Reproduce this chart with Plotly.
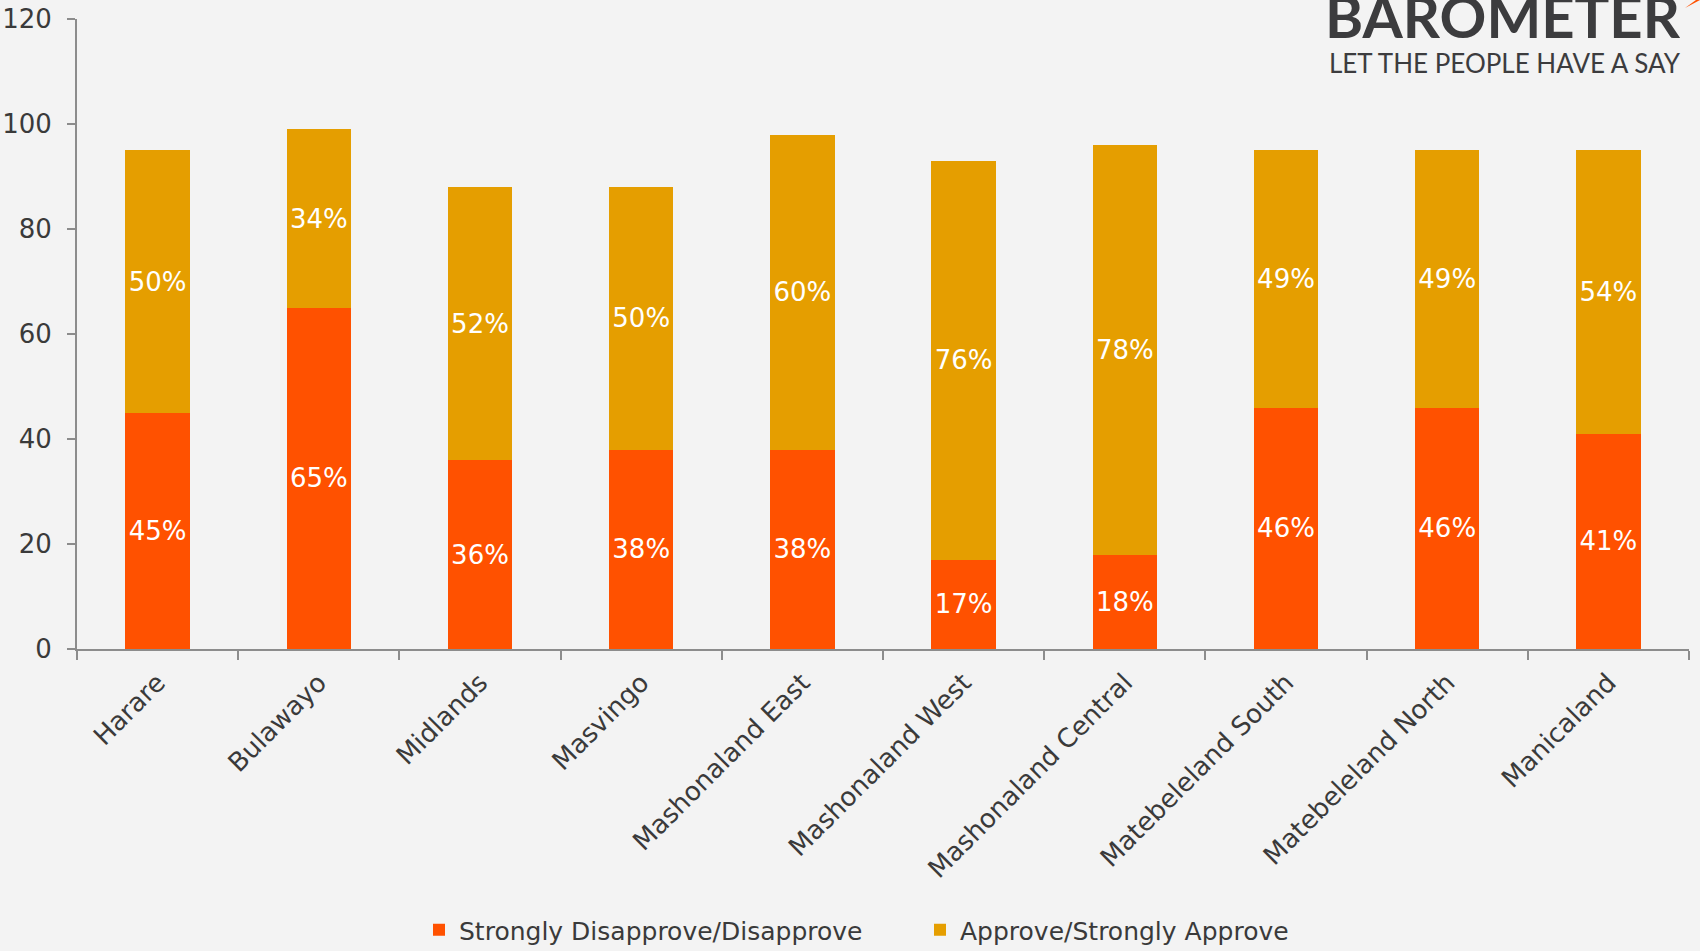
import plotly.graph_objects as go

regions = ["Harare", "Bulawayo", "Midlands", "Masvingo", "Mashonaland East",
           "Mashonaland West", "Mashonaland Central", "Matebeleland South",
           "Matebeleland North", "Manicaland"]
disapprove = [45, 65, 36, 38, 38, 17, 18, 46, 46, 41]
approve = [50, 34, 52, 50, 60, 76, 78, 49, 49, 54]
y_ticks = [0, 20, 40, 60, 80, 100, 120]

RED = "#FF5100"
GOLD = "#E59E00"
FONT = "DejaVu Sans"
TXT = "#3a3a3a"

fig = go.Figure()
for vals, name, col in [(disapprove, "Strongly Disapprove/Disapprove", RED),
                        (approve, "Approve/Strongly Approve", GOLD)]:
    fig.add_trace(go.Bar(
        x=regions, y=vals, name=name,
        marker=dict(color=col, line=dict(width=0)),
        text=[f"{v}%" for v in vals], textposition="inside", textangle=0,
        insidetextanchor="middle", constraintext="none",
        textfont=dict(color="white", size=26, family=FONT),
    ))

fig.update_layout(
    barmode="stack", bargap=0.6,
    width=1700, height=951,
    margin=dict(l=77, r=11, t=19, b=302, autoexpand=False),
    paper_bgcolor="#f3f3f3", plot_bgcolor="rgba(0,0,0,0)",
    font=dict(family=FONT, color=TXT, size=24),
    showlegend=True,
    legend=dict(orientation="h", x=(419-77)/1612, xanchor="left",
                yref="container", y=(951-930)/951, yanchor="middle",
                font=dict(size=25, color=TXT), itemsizing="constant",
                entrywidth=456, entrywidthmode="pixels",
                traceorder="normal", bgcolor="rgba(0,0,0,0)"),
)
fig.update_xaxes(
    showline=True, linecolor="#8c8c8c", linewidth=2,
    ticks="outside", tickson="boundaries", ticklen=9, tickcolor="#8c8c8c", tickwidth=2,
    tickangle=-45, tickfont=dict(size=26, color=TXT, family=FONT),
    showgrid=False, ticklabelstandoff=6,
)
fig.update_yaxes(
    range=[0, 120], tickvals=y_ticks, showline=True, linecolor="#8c8c8c", linewidth=2,
    ticks="outside", ticklen=8, tickcolor="#8c8c8c", tickwidth=2,
    tickfont=dict(size=26, color=TXT, family=FONT), showgrid=False, zeroline=False,
    ticklabelstandoff=10,
)

# Logo text
fig.add_annotation(text="<b>BAROMETER</b>", xref="paper", yref="paper",
                   x=(1683-77)/1612, y=(649-52)/630, xanchor="right", yanchor="bottom",
                   showarrow=False, font=dict(size=58, color="#3c3c3e", family="Lato"))
fig.add_annotation(text="LET THE PEOPLE HAVE A SAY", xref="paper", yref="paper",
                   x=(1683-77)/1612, y=(649-81)/630, xanchor="right", yanchor="bottom",
                   showarrow=False, font=dict(size=26, color="#3c3c3e", family="Lato"))
# small orange accent
fig.add_shape(type="path", xref="paper", yref="paper",
              path=f"M {(1685-77)/1612} {(649-8)/630} L {(1700-77)/1612} {(649-0)/630} L {(1696-77)/1612} {(649-0)/630} Z",
              fillcolor=RED, line=dict(width=0))

fig.write_html("out.html", config={"displayModeBar": False},
               post_script="document.body.style.margin='0';document.body.style.background='#f3f3f3';")
